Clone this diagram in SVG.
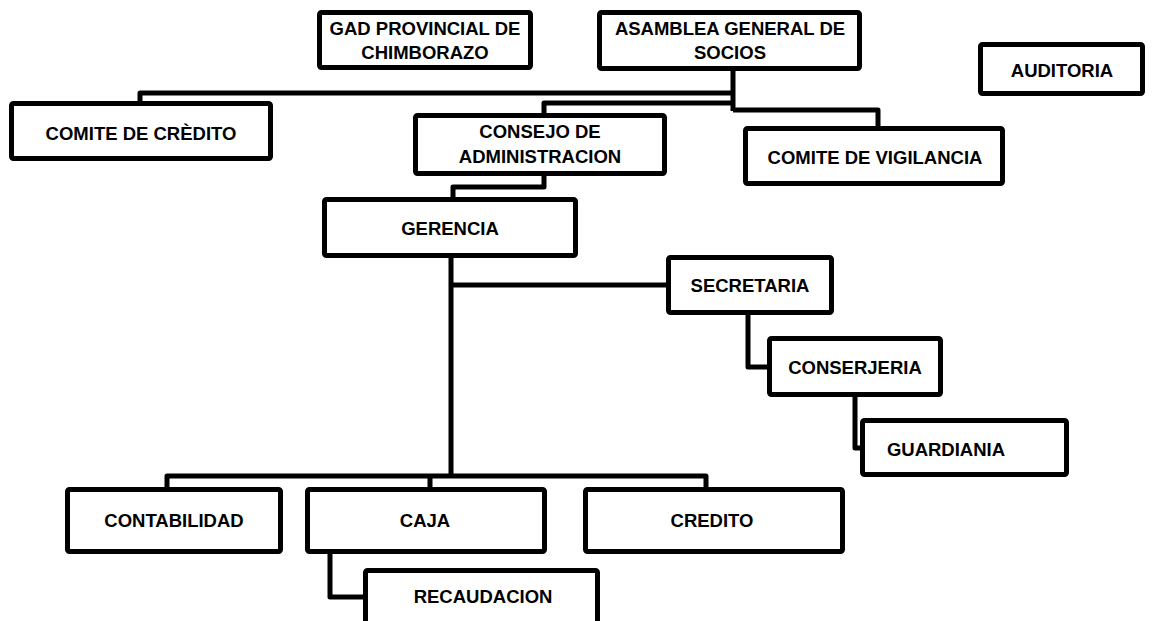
<svg xmlns="http://www.w3.org/2000/svg" width="1156" height="621" viewBox="0 0 1156 621">
<style>
.box{fill:#fff;stroke:#000;stroke-width:5;stroke-linejoin:round}
.lbl{font-family:"Liberation Sans",Arial,sans-serif;font-weight:bold;font-size:18.5px;fill:#000;text-anchor:middle}
.con{fill:none;stroke:#000;stroke-width:5;stroke-linejoin:round}
</style>
<rect width="1156" height="621" fill="#fff"/>
<g id="connectors">
<path class="con" d="M733,70 V111"/>
<path class="con" d="M733,93 H140 V101"/>
<path class="con" d="M733,103 H544 V113"/>
<path class="con" d="M733,110 H878 V127"/>
<path class="con" d="M544,175 V187 H453 V198"/>
<path class="con" d="M451,257 V476"/>
<path class="con" d="M451,285 H667"/>
<path class="con" d="M748,314 V367 H768"/>
<path class="con" d="M855,396 V448 H861"/>
<path class="con" d="M167,488 V476 H706 V488"/>
<path class="con" d="M430,476 V488"/>
<path class="con" d="M330,553 V597 H364"/>
</g>
<g id="gad"><rect class="box" x="319.5" y="12.5" width="211" height="55" rx="2"/><text class="lbl" x="425" y="35">GAD PROVINCIAL DE</text><text class="lbl" x="425" y="59">CHIMBORAZO</text></g>
<g id="asamblea"><rect class="box" x="599.5" y="12.5" width="260" height="56" rx="2"/><text class="lbl" x="730" y="35">ASAMBLEA GENERAL DE</text><text class="lbl" x="730" y="59">SOCIOS</text></g>
<g id="auditoria"><rect class="box" x="980.5" y="44.5" width="162" height="49" rx="2"/><text class="lbl" x="1062" y="76.5">AUDITORIA</text></g>
<g id="comite-credito"><rect class="box" x="11.5" y="103.5" width="259" height="55" rx="2"/><text class="lbl" x="141" y="140">COMITE DE CRÈDITO</text></g>
<g id="consejo"><rect class="box" x="415.5" y="115.5" width="249" height="58" rx="2"/><text class="lbl" x="540" y="138">CONSEJO DE</text><text class="lbl" x="540" y="163">ADMINISTRACION</text></g>
<g id="comite-vigilancia"><rect class="box" x="745.5" y="128.5" width="257" height="55" rx="2"/><text class="lbl" x="875" y="164">COMITE DE VIGILANCIA</text></g>
<g id="gerencia"><rect class="box" x="324.5" y="199.5" width="251" height="56" rx="2"/><text class="lbl" x="450" y="235">GERENCIA</text></g>
<g id="secretaria"><rect class="box" x="668.5" y="257.5" width="163" height="55" rx="2"/><text class="lbl" x="750" y="292">SECRETARIA</text></g>
<g id="conserjeria"><rect class="box" x="769.5" y="338.5" width="171" height="56" rx="2"/><text class="lbl" x="855" y="374">CONSERJERIA</text></g>
<g id="guardiania"><rect class="box" x="862.5" y="420.5" width="204" height="54" rx="2"/><text class="lbl" x="946" y="456">GUARDIANIA</text></g>
<g id="contabilidad"><rect class="box" x="67.5" y="489.5" width="213" height="62" rx="2"/><text class="lbl" x="174" y="527">CONTABILIDAD</text></g>
<g id="caja"><rect class="box" x="307.5" y="489.5" width="237" height="62" rx="2"/><text class="lbl" x="425" y="527">CAJA</text></g>
<g id="credito"><rect class="box" x="585.5" y="489.5" width="257" height="62" rx="2"/><text class="lbl" x="712" y="527">CREDITO</text></g>
<g id="recaudacion"><rect class="box" x="365.5" y="570.5" width="232" height="60" rx="2"/><text class="lbl" x="483" y="603">RECAUDACION</text></g>
</svg>
